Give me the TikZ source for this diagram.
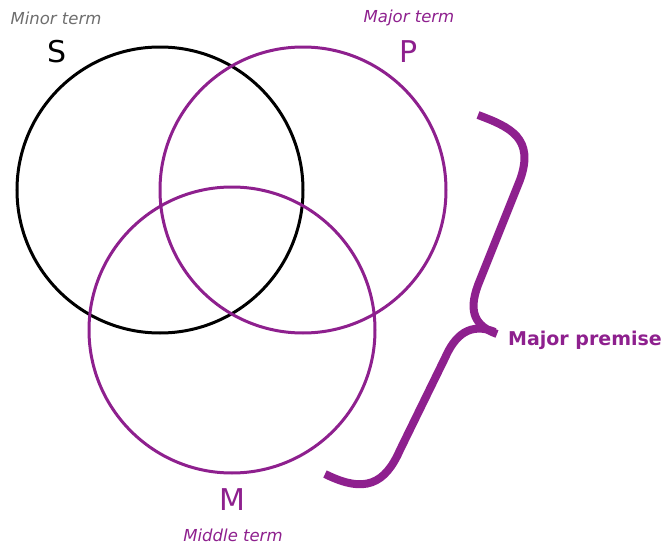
\documentclass[tikz,border=0pt]{standalone}
\usepackage{fontspec}
\setmainfont{DejaVu Sans}
\definecolor{vpurple}{RGB}{142,32,142}
\definecolor{tgrey}{RGB}{110,110,110}
\begin{document}
\begin{tikzpicture}[x=1pt,y=-1pt,
  setc/.style={circle,draw,line width=3pt,minimum size=286pt,inner sep=0pt},
  letter/.style={font=\fontsize{30}{30}\selectfont,inner sep=0pt},
  term/.style={font=\fontsize{16.5}{16.5}\selectfont\itshape,inner sep=0pt}]
\useasboundingbox (0,0) rectangle (665,546);
\node[setc,draw=black] (S) at (160,190) {};
\node[setc,draw=vpurple] (P) at (303,190) {};
\node[setc,draw=vpurple] (M) at (232,330) {};
\node[term,text=tgrey] (minor) at (56,18) {Minor term};
\node[letter] (s) at (57,52) {S};
\node[term,text=vpurple] (major) at (409,18) {Major term};
\node[letter,text=vpurple] (p) at (409,52) {P};
\node[letter,text=vpurple] (m) at (232,500) {M};
\node[term,text=vpurple] (middle) at (233,535) {Middle term};
\node[font=\fontsize{19}{19}\selectfont\bfseries,text=vpurple,inner sep=0pt] (prem) at (585,340) {Major premise};
\draw[vpurple,line width=8pt]
  (478,115) .. controls (510,127) and (535,138) .. (520,180)
  -- (478,285) .. controls (468,312) and (475,326) .. (497,334);
\draw[vpurple,line width=8pt]
  (495,332) .. controls (470,322) and (455,335) .. (445,358)
  -- (400,450) .. controls (385,484) and (365,494) .. (325,474);
\end{tikzpicture}
\end{document}
